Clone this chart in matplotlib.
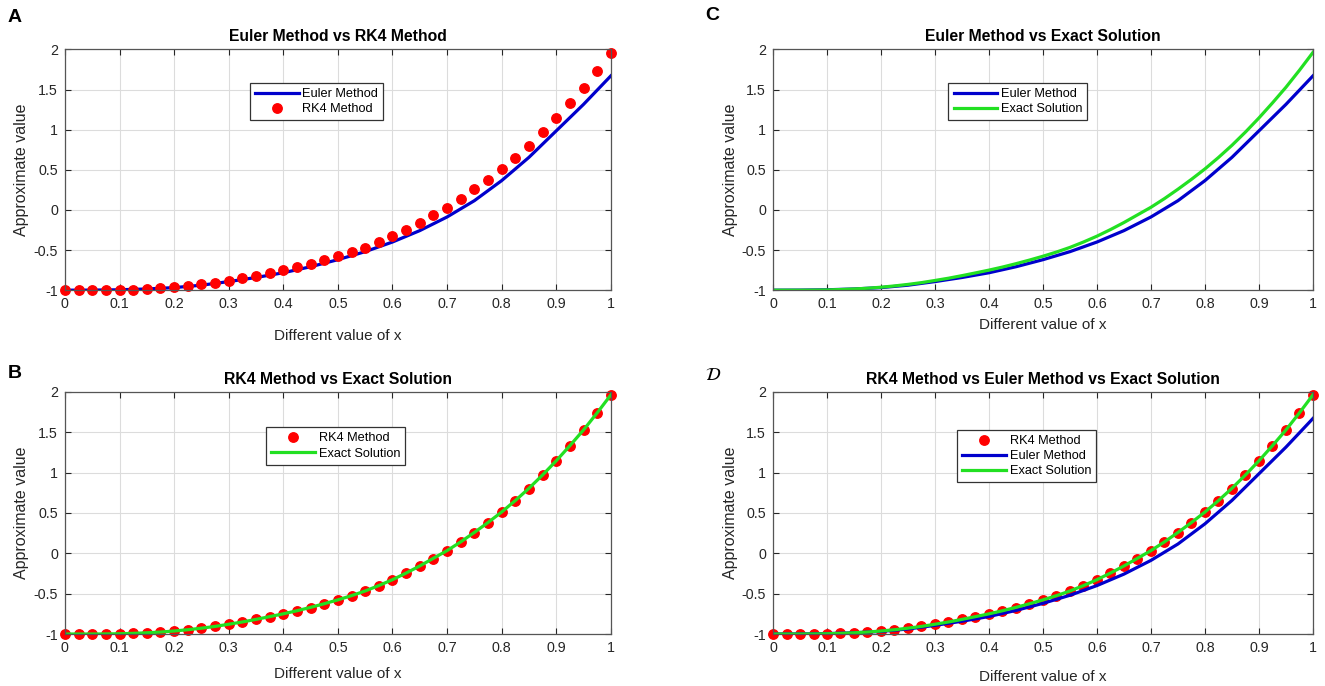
import matplotlib
matplotlib.use("Agg")
import matplotlib.pyplot as plt

plt.rcParams['font.family'] = ['Liberation Sans', 'DejaVu Sans']
plt.rcParams['mathtext.fontset'] = 'stix'

# RK4 / exact solution sampled at h = 0.025
x_rk4 = [0.0, 0.025, 0.05, 0.075, 0.1, 0.125, 0.15, 0.175, 0.2, 0.225,
         0.25, 0.275, 0.3, 0.325, 0.35, 0.375, 0.4, 0.425, 0.45, 0.475,
         0.5, 0.525, 0.55, 0.575, 0.6, 0.625, 0.65, 0.675, 0.7, 0.725,
         0.75, 0.775, 0.8, 0.825, 0.85, 0.875, 0.9, 0.925, 0.95, 0.975, 1.0]
rk4_y = [-1.0, -1.0, -1.0, -0.999, -0.997, -0.992, -0.985, -0.976, -0.963, -0.947,
         -0.928, -0.906, -0.880, -0.852, -0.820, -0.787, -0.752, -0.714, -0.673, -0.628,
         -0.580, -0.528, -0.470, -0.403, -0.330, -0.248, -0.160, -0.065, 0.030, 0.138,
         0.255, 0.378, 0.508, 0.650, 0.802, 0.967, 1.143, 1.330, 1.525, 1.737, 1.960]
exact_y = [-1.0, -1.0, -1.0, -0.999, -0.997, -0.992, -0.985, -0.976, -0.963, -0.947,
           -0.928, -0.906, -0.879, -0.851, -0.819, -0.785, -0.750, -0.712, -0.670, -0.625,
           -0.577, -0.525, -0.467, -0.400, -0.327, -0.245, -0.157, -0.062, 0.033, 0.141,
           0.258, 0.381, 0.511, 0.653, 0.805, 0.970, 1.146, 1.333, 1.528, 1.740, 1.962]

# Euler method
x_euler = [0.0, 0.05, 0.1, 0.15, 0.2, 0.25, 0.3, 0.35, 0.4, 0.45, 0.5,
           0.55, 0.6, 0.65, 0.7, 0.75, 0.8, 0.85, 0.9, 0.95, 1.0]
euler_y = [-1.0, -0.999, -0.995, -0.985, -0.968, -0.938, -0.893, -0.842, -0.783, -0.708, -0.620,
           -0.520, -0.400, -0.258, -0.088, 0.115, 0.365, 0.655, 0.985, 1.315, 1.670]

xticks = [0, 0.1, 0.2, 0.3, 0.4, 0.5, 0.6, 0.7, 0.8, 0.9, 1]
xtick_labels = ['0', '0.1', '0.2', '0.3', '0.4', '0.5', '0.6', '0.7', '0.8', '0.9', '1']
yticks = [-1, -0.5, 0, 0.5, 1, 1.5, 2]
ytick_labels = ['-1', '-0.5', '0', '0.5', '1', '1.5', '2']

BLUE = '#0000cc'
GREEN = '#22e022'
RED = '#ff0000'
DARK = '#262626'

fig = plt.figure(figsize=(13.25, 6.86), dpi=100)

positions = {
    'A': [0.049, 0.577, 0.412, 0.351],
    'C': [0.5834, 0.577, 0.4075, 0.351],
    'B': [0.049, 0.0758, 0.412, 0.353],
    'D': [0.5834, 0.0758, 0.4075, 0.353],
}
titles = {
    'A': 'Euler Method vs RK4 Method',
    'C': 'Euler Method vs Exact Solution',
    'B': 'RK4 Method vs Exact Solution',
    'D': 'RK4 Method vs Euler Method vs Exact Solution',
}
legend_anchor = {'A': (0.339, 0.861), 'C': (0.325, 0.861),
                 'B': (0.369, 0.854), 'D': (0.341, 0.843)}
xlabel_pad = {'A': 13, 'C': 5, 'B': 9, 'D': 11}

axes = {}
for key, pos in positions.items():
    ax = fig.add_axes(pos)
    axes[key] = ax
    ax.set_xlim(0, 1)
    ax.set_ylim(-1, 2)
    ax.set_xticks(xticks)
    ax.set_xticklabels(xtick_labels)
    ax.set_yticks(yticks)
    ax.set_yticklabels(ytick_labels)
    ax.grid(True, color='#dcdcdc', linewidth=0.8)
    ax.set_axisbelow(True)
    ax.tick_params(direction='in', top=True, right=True, length=4,
                   width=0.8, colors=DARK, labelsize=10.3, pad=5)
    for sp in ax.spines.values():
        sp.set_color('#555555')
        sp.set_linewidth(0.9)
    ax.set_title(titles[key], fontsize=11.3, fontweight='bold', pad=6)
    ax.set_xlabel('Different value of x', fontsize=11, color=DARK,
                  labelpad=xlabel_pad[key])
    ax.set_ylabel('Approximate value', fontsize=11.5, color=DARK, labelpad=3)

mk = dict(linestyle='none', marker='o', markersize=6.8, color=RED, clip_on=False)

ax = axes['A']
ax.plot(x_euler, euler_y, color=BLUE, linewidth=2.3, label='Euler Method')
ax.plot(x_rk4, rk4_y, label='RK4 Method', **mk)

ax = axes['C']
ax.plot(x_euler, euler_y, color=BLUE, linewidth=2.3, label='Euler Method')
ax.plot(x_rk4, exact_y, color=GREEN, linewidth=2.3, label='Exact Solution')

ax = axes['B']
ax.plot(x_rk4, rk4_y, label='RK4 Method', **mk)
ax.plot(x_rk4, exact_y, color=GREEN, linewidth=2.3, label='Exact Solution')

ax = axes['D']
ax.plot(x_rk4, rk4_y, label='RK4 Method', **mk)
ax.plot(x_euler, euler_y, color=BLUE, linewidth=2.3, label='Euler Method')
ax.plot(x_rk4, exact_y, color=GREEN, linewidth=2.3, label='Exact Solution')

for key, ax in axes.items():
    leg = ax.legend(loc='upper left', bbox_to_anchor=legend_anchor[key],
                    fontsize=9.2, fancybox=False, framealpha=1,
                    edgecolor='#333333', handlelength=3.4, handletextpad=0.3,
                    labelspacing=0.25, borderpad=0.4, borderaxespad=0)
    leg.get_frame().set_linewidth(0.9)

fig.text(0.006, 0.975, 'A', fontsize=14, fontweight='bold', va='center')
fig.text(0.006, 0.455, 'B', fontsize=14, fontweight='bold', va='center')
fig.text(0.532, 0.978, 'C', fontsize=14, fontweight='bold', va='center')
fig.text(0.532, 0.452, r'$\mathcal{D}$', fontsize=13, va='center')

fig.savefig('out.png', dpi=100)
